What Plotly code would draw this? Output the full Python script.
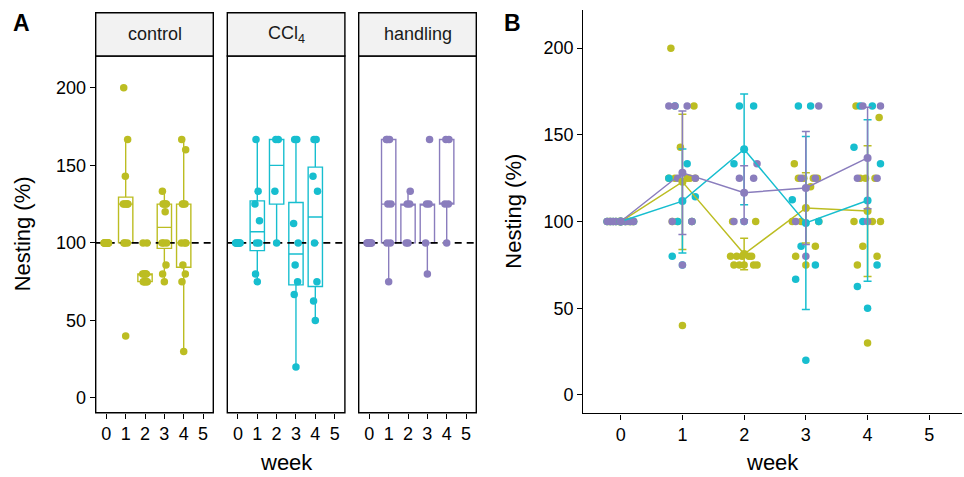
import numpy as np
import plotly.graph_objects as go

# ---------------- data ----------------
weeks = [0, 1, 2, 3, 4]
group_names = ["control", "CCl4", "handling"]
strip_labels = ["control", "CCl<sub>4</sub>", "handling"]

control_w0 = [100, 100, 100, 100, 100, 100, 100, 100, 100, 100, 100, 100]
control_w1 = [40, 100, 100, 100, 125, 125, 125, 125, 125, 142.9, 166.7, 200]
control_w2 = [75, 75, 75, 75, 75, 80, 80, 80, 80, 80, 100, 100]
control_w3 = [75, 80, 85.7, 100, 100, 100, 120, 125, 125, 125, 125, 133.3]
control_w4 = [30, 75, 80, 85.7, 100, 100, 100, 125, 125, 125, 160, 166.7]

ccl4_w0 = [100, 100, 100, 100, 100, 100, 100, 100]
ccl4_w1 = [75, 80, 100, 100, 114.3, 125, 133.3, 166.7]
ccl4_w2 = [100, 133.3, 166.7, 166.7]
ccl4_w3 = [20, 66.7, 75, 85.7, 100, 112.5, 166.7, 166.7]
ccl4_w4 = [50, 62.5, 75, 100, 133.3, 142.9, 166.7, 166.7]

handling_w0 = [100, 100, 100, 100, 100, 100, 100, 100]
handling_w1 = [75, 100, 100, 125, 125, 166.7, 166.7, 166.7]
handling_w2 = [100, 100, 125, 125, 133.3]
handling_w3 = [80, 100, 125, 125, 166.7]
handling_w4 = [100, 125, 125, 166.7, 166.7]

reference_level = 100
y_ticks = [0, 50, 100, 150, 200]
x_ticks = [0, 1, 2, 3, 4, 5]

data = {
    "control": [control_w0, control_w1, control_w2, control_w3, control_w4],
    "CCl4": [ccl4_w0, ccl4_w1, ccl4_w2, ccl4_w3, ccl4_w4],
    "handling": [handling_w0, handling_w1, handling_w2, handling_w3, handling_w4],
}

# ---------------- style ----------------
colors = {"control": "#BCBD22", "CCl4": "#17BECF", "handling": "#8A7DBD"}
FONT = "Liberation Sans, Arial, sans-serif"
W, H = 964, 477
JIT = [0.0, -0.75, 0.7, -0.35, 0.95, -1.0, 0.35, -0.55, 0.55, -0.15, 0.85, -0.85]


def px(x):
    return x / W


def py(y):
    return 1 - y / H


def jitter(n, width):
    return [JIT[i % len(JIT)] * width for i in range(n)]


def box_stats(vals):
    v = np.asarray(vals, dtype=float)
    q1, med, q3 = np.percentile(v, [25, 50, 75])
    iqr = q3 - q1
    lo = v[v >= q1 - 1.5 * iqr].min()
    hi = v[v <= q3 + 1.5 * iqr].max()
    return q1, med, q3, lo, hi


# panel geometry (pixels)
A_left = [95.7, 227.3, 358.7]
A_w = 117.6
A_top, A_bot = 56.0, 412.7
B_left, B_right, B_top, B_bot = 583.3, 962.0, 10.0, 413.3
A_xrange = [-0.55, 5.53]
A_yrange = [-9.5, 220.5]
B_xrange = [-0.606, 5.53]
B_yrange = [-10.6, 222.0]

fig = go.Figure()
shapes = []
annotations = []

axis_font = dict(family=FONT, size=18, color="black")

# ---------------- panel A ----------------
for gi, g in enumerate(group_names):
    ax = "" if gi == 0 else str(gi + 1)
    c = colors[g]
    stats = [box_stats(v) for v in data[g]]
    fig.add_trace(go.Box(
        x=weeks,
        q1=[s[0] for s in stats], median=[s[1] for s in stats], q3=[s[2] for s in stats],
        lowerfence=[s[3] for s in stats], upperfence=[s[4] for s in stats],
        width=0.74, whiskerwidth=0, boxpoints=False,
        fillcolor="rgba(255,255,255,0)", line=dict(color=c, width=1.4),
        xaxis="x" + ax, yaxis="y" + ax, showlegend=False, hoverinfo="skip",
    ))
    # dashed reference line (between boxes and points)
    fig.add_trace(go.Scatter(
        x=A_xrange, y=[reference_level, reference_level], mode="lines",
        line=dict(color="black", width=1.8, dash="7px,5px"),
        xaxis="x" + ax, yaxis="y" + ax, showlegend=False, hoverinfo="skip",
        cliponaxis=True,
    ))
    xs, ys = [], []
    for w, vals in zip(weeks, data[g]):
        off = jitter(len(vals), 0.12)
        xs += [w + o for o in off]
        ys += list(vals)
    fig.add_trace(go.Scatter(
        x=xs, y=ys, mode="markers",
        marker=dict(size=7.5, color=c, line=dict(width=0)),
        xaxis="x" + ax, yaxis="y" + ax, showlegend=False, hoverinfo="skip",
    ))
    l = A_left[gi]
    # panel border
    shapes.append(dict(type="rect", xref="paper", yref="paper",
                       x0=px(l), x1=px(l + A_w), y0=py(A_bot), y1=py(A_top),
                       line=dict(color="black", width=1.4), fillcolor="rgba(0,0,0,0)", layer="above"))
    # strip
    shapes.append(dict(type="rect", xref="paper", yref="paper",
                       x0=px(l), x1=px(l + A_w), y0=py(A_top), y1=py(12.7),
                       line=dict(color="black", width=1.4), fillcolor="#F2F2F2", layer="above"))
    annotations.append(dict(text=strip_labels[gi], xref="paper", yref="paper",
                            x=px(l + A_w / 2), y=py(34), showarrow=False,
                            xanchor="center", yanchor="middle",
                            font=dict(family=FONT, size=18, color="#1A1A1A")))

    xa = dict(domain=[px(l), px(l + A_w)], range=A_xrange, anchor="y" + ax,
              tickmode="array", tickvals=x_ticks, ticktext=[str(t) for t in x_ticks],
              ticks="outside", ticklen=5, tickwidth=1.3, tickcolor="black",
              showline=False, showgrid=False, zeroline=False, tickfont=axis_font)
    ya = dict(domain=[py(A_bot), py(A_top)], range=A_yrange, anchor="x" + ax,
              showgrid=False, zeroline=False, showline=False)
    if gi == 0:
        ya.update(tickmode="array", tickvals=y_ticks, ticks="outside", ticklen=5,
                  tickwidth=1.3, tickcolor="black", tickfont=axis_font)
    else:
        ya.update(showticklabels=False, ticks="", matches="y")
    fig.update_layout(**{"xaxis" + ax: xa, "yaxis" + ax: ya})

# ---------------- panel B ----------------
for g in group_names:
    c = colors[g]
    xs, ys = [], []
    for w, vals in zip(weeks, data[g]):
        off = jitter(len(vals), 0.22)
        xs += [w + o for o in off]
        ys += list(vals)
    fig.add_trace(go.Scatter(
        x=xs, y=ys, mode="markers",
        marker=dict(size=7.5, color=c, line=dict(width=0)),
        xaxis="x4", yaxis="y4", showlegend=False, hoverinfo="skip",
    ))
for g in group_names:
    c = colors[g]
    means = [float(np.mean(v)) for v in data[g]]
    sds = [float(np.std(v, ddof=1)) for v in data[g]]
    fig.add_trace(go.Scatter(
        x=weeks, y=means, mode="lines+markers",
        line=dict(color=c, width=1.5),
        marker=dict(size=8, color=c, line=dict(width=0)),
        error_y=dict(type="data", array=sds, visible=True, color=c, thickness=1.5, width=4),
        xaxis="x4", yaxis="y4", showlegend=False, hoverinfo="skip",
    ))

fig.update_layout(
    xaxis4=dict(domain=[px(B_left), px(B_right)], range=B_xrange, anchor="y4",
                tickmode="array", tickvals=x_ticks, ticks="outside", ticklen=5,
                tickwidth=1.3, tickcolor="black", showline=True, linecolor="black",
                linewidth=1.4, showgrid=False, zeroline=False, tickfont=axis_font),
    yaxis4=dict(domain=[py(B_bot), py(B_top)], range=B_yrange, anchor="x4",
                tickmode="array", tickvals=y_ticks, ticks="outside", ticklen=5,
                tickwidth=1.3, tickcolor="black", showline=True, linecolor="black",
                linewidth=1.4, showgrid=False, zeroline=False, tickfont=axis_font),
)

title_font = dict(family=FONT, size=22, color="black")
annotations += [
    dict(text="Nesting (%)", xref="paper", yref="paper", x=px(22), y=py((A_top + A_bot) / 2),
         textangle=-90, showarrow=False, font=title_font, xanchor="center", yanchor="middle"),
    dict(text="week", xref="paper", yref="paper", x=px((A_left[0] + A_left[2] + A_w) / 2), y=py(462),
         showarrow=False, font=title_font, xanchor="center", yanchor="middle"),
    dict(text="Nesting (%)", xref="paper", yref="paper", x=px(514), y=py((B_top + B_bot) / 2),
         textangle=-90, showarrow=False, font=title_font, xanchor="center", yanchor="middle"),
    dict(text="week", xref="paper", yref="paper", x=px((B_left + B_right) / 2), y=py(462),
         showarrow=False, font=title_font, xanchor="center", yanchor="middle"),
    dict(text="<b>A</b>", xref="paper", yref="paper", x=px(21.5), y=py(23),
         showarrow=False, font=dict(family=FONT, size=23, color="black"),
         xanchor="center", yanchor="middle"),
    dict(text="<b>B</b>", xref="paper", yref="paper", x=px(512), y=py(23),
         showarrow=False, font=dict(family=FONT, size=23, color="black"),
         xanchor="center", yanchor="middle"),
]

fig.update_layout(
    width=W, height=H, autosize=False,
    margin=dict(l=0, r=0, t=0, b=0),
    paper_bgcolor="white", plot_bgcolor="white",
    shapes=shapes, annotations=annotations,
    font=dict(family=FONT, color="black"),
    showlegend=False,
)

fig.write_html(
    "out.html",
    config={"displayModeBar": False},
    post_script="document.body.style.margin='0';document.body.style.overflow='hidden';",
)
